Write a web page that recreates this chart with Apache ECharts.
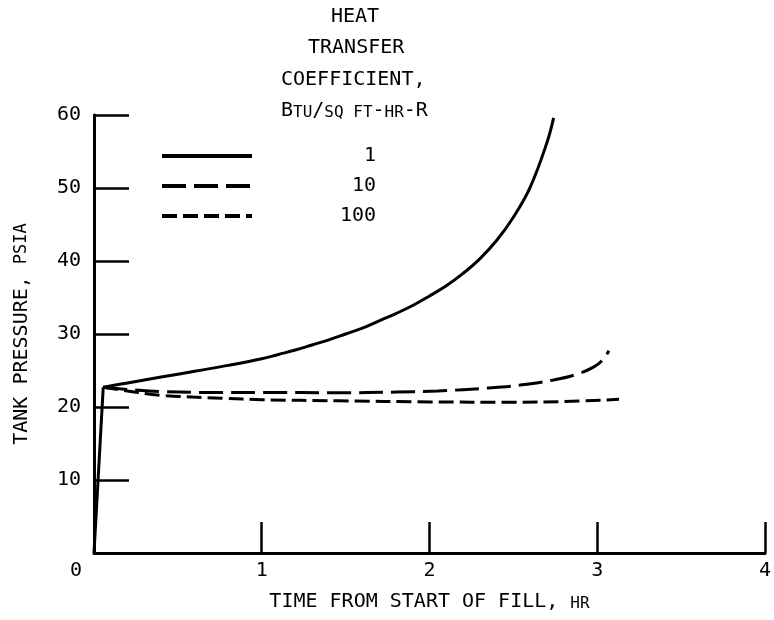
<!DOCTYPE html>
<html>
<head>
<meta charset="utf-8">
<script src="https://cdn.jsdelivr.net/npm/echarts@6/dist/echarts.min.js"></script>
<style>html,body{margin:0;padding:0;background:#fff;}#c{width:774px;height:620px;}</style>
</head>
<body>
<div id="c"></div>
<script>
// ---- data ----
var seriesNames = ['1', '10', '100'];
var riseTime = [0, 0.055];
var risePressure = [0, 22.7];
var timeH1 = [0.055, 0.2, 0.4, 0.6, 0.8, 1.0, 1.1, 1.2, 1.3, 1.4, 1.5, 1.6, 1.7, 1.8, 1.9, 2.0, 2.1, 2.2, 2.3, 2.4, 2.5, 2.6, 2.7, 2.74];
var pressH1 = [22.7, 23.3, 24.1, 24.9, 25.7, 26.6, 27.2, 27.8, 28.5, 29.2, 30.0, 30.8, 31.8, 32.8, 33.9, 35.2, 36.6, 38.3, 40.3, 42.8, 46.0, 50.1, 56.2, 59.6];
var timeH10 = [0.055, 0.2, 0.4, 0.7, 1.0, 1.46, 1.8, 2.05, 2.35, 2.54, 2.74, 2.88, 2.98, 3.03, 3.07];
var pressH10 = [22.7, 22.4, 22.1, 22.0, 22.0, 21.95, 22.05, 22.2, 22.6, 23.0, 23.7, 24.5, 25.5, 26.4, 27.7];
var timeH100 = [0.055, 0.2, 0.4, 0.77, 1.0, 1.46, 2.0, 2.5, 2.8, 3.13];
var pressH100 = [22.7, 22.2, 21.6, 21.2, 21.0, 20.85, 20.7, 20.65, 20.75, 21.05];
var xTicks = [0, 1, 2, 3, 4];
var yTicks = [0, 10, 20, 30, 40, 50, 60];
var titleLines = ['HEAT', 'TRANSFER', 'COEFFICIENT,'];

function zip(a, b) { return a.map(function (v, i) { return [v, b[i]]; }); }

var FONT = 'DejaVu Sans Mono';
var chart = echarts.init(document.getElementById('c'), null, { renderer: 'canvas' });

var titles = [
  { text: titleLines[0], left: 331, top: 7 },
  { text: titleLines[1], left: 308, top: 38 },
  { text: titleLines[2], left: 281, top: 70 },
  { text: '{b|B}{s|TU}{b|/}{s|SQ FT}{b|-}{s|HR}{b|-R}', left: 281, top: 101 }
].map(function (t) {
  return {
    text: t.text, left: t.left, top: t.top, padding: 0,
    textStyle: {
      fontFamily: FONT, fontSize: 20, fontWeight: 'normal', color: '#000',
      rich: {
        b: { fontFamily: FONT, fontSize: 20, color: '#000' },
        s: { fontFamily: FONT, fontSize: 16, color: '#000', padding: [3, 0, 0, 0] }
      }
    }
  };
});

chart.setOption({
  backgroundColor: '#fff',
  animation: false,
  title: titles,
  legend: {
    orient: 'vertical', left: 160, top: 146, padding: 0,
    itemWidth: 90, itemHeight: 14, itemGap: 10,
    data: seriesNames,
    itemStyle: { opacity: 0, color: 'rgba(0,0,0,0)', borderWidth: 0 },
    lineStyle: { width: 4 },
    formatter: function (n) { return '{a|' + n + '}'; },
    textStyle: {
      fontFamily: FONT, fontSize: 20, color: '#000',
      rich: { a: { fontFamily: FONT, fontSize: 20, color: '#000', width: 119, align: 'right' } }
    }
  },
  grid: { left: 94, right: 4, top: 115, bottom: 67, containLabel: false },
  xAxis: {
    type: 'value', min: xTicks[0], max: xTicks[xTicks.length - 1], interval: 1,
    name: '{a|TIME FROM START OF FILL, }{s|HR}',
    nameLocation: 'middle', nameGap: 39,
    nameTextStyle: {
      fontFamily: FONT, fontSize: 20, color: '#000',
      rich: {
        a: { fontFamily: FONT, fontSize: 20, color: '#000' },
        s: { fontFamily: FONT, fontSize: 16, color: '#000', padding: [3, 0, 0, 0] }
      }
    },
    splitLine: { show: false },
    axisLine: { show: true, onZero: false, lineStyle: { color: '#000', width: 3 } },
    axisTick: { show: true, inside: true, length: 31, lineStyle: { color: '#000', width: 2.5 } },
    axisLabel: {
      fontFamily: FONT, fontSize: 20, color: '#000', margin: 8, showMaxLabel: true, showMinLabel: true,
      formatter: function (v) { return v === 0 ? '{z|0}' : String(v); },
      rich: { z: { fontFamily: FONT, fontSize: 20, color: '#000', padding: [0, 36, 0, 0] } }
    }
  },
  yAxis: {
    type: 'value', min: yTicks[0], max: yTicks[yTicks.length - 1], interval: 10,
    name: '{a|TANK PRESSURE, }{s|PSIA}',
    nameLocation: 'middle', nameGap: 62,
    nameTextStyle: {
      fontFamily: FONT, fontSize: 20, color: '#000',
      rich: {
        a: { fontFamily: FONT, fontSize: 20, color: '#000' },
        s: { fontFamily: FONT, fontSize: 17, color: '#000' }
      }
    },
    splitLine: { show: false },
    axisLine: { show: true, onZero: false, lineStyle: { color: '#000', width: 3 } },
    axisTick: { show: true, inside: true, length: 35, lineStyle: { color: '#000', width: 2.5 } },
    axisLabel: {
      fontFamily: FONT, fontSize: 20, color: '#000', margin: 13,
      formatter: function (v) { return v === 0 ? '' : String(v); }
    }
  },
  series: [
    { name: 'rise', type: 'line', data: zip(riseTime, risePressure), symbol: 'none', silent: true,
      lineStyle: { color: '#000', width: 3, type: 'solid' }, itemStyle: { color: '#000' } },
    { name: seriesNames[0], type: 'line', data: zip(timeH1, pressH1), symbol: 'none', smooth: 0.4,
      lineStyle: { color: '#000', width: 3, type: 'solid' }, itemStyle: { color: '#000' } },
    { name: seriesNames[1], type: 'line', data: zip(timeH10, pressH10), symbol: 'none', smooth: 0.4,
      lineStyle: { color: '#000', width: 3, type: [24, 8] }, itemStyle: { color: '#000' } },
    { name: seriesNames[2], type: 'line', data: zip(timeH100, pressH100), symbol: 'none', smooth: 0.4,
      lineStyle: { color: '#000', width: 3, type: [15, 6] }, itemStyle: { color: '#000' } }
  ]
});
</script>
</body>
</html>
